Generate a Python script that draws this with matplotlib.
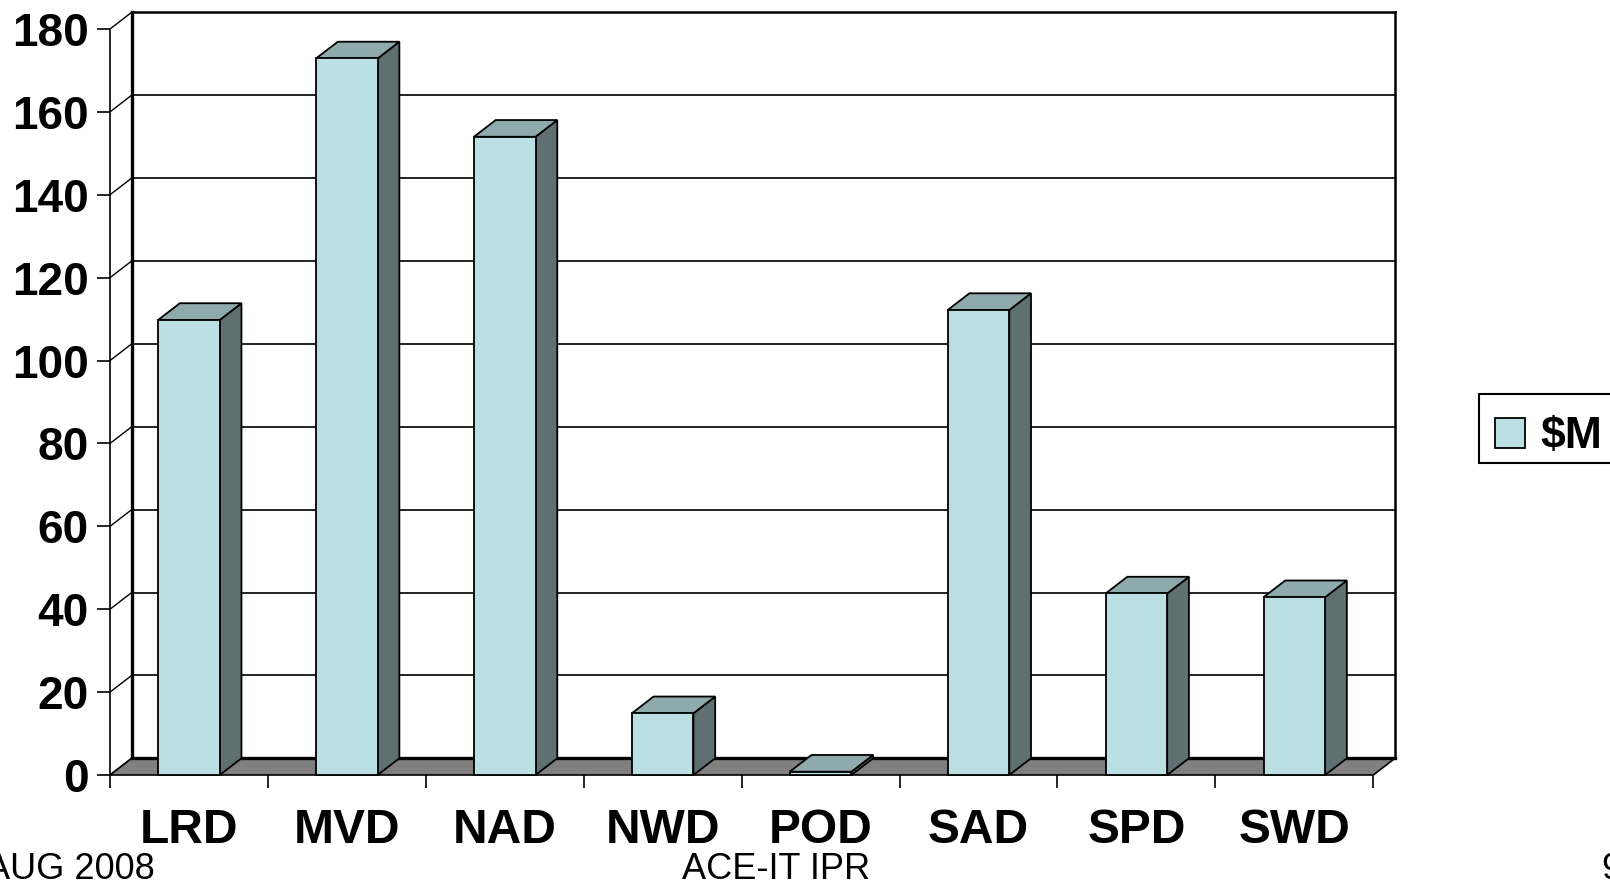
"""3D-style column chart: $M by division (ACE-IT IPR, AUG 2008)."""

import matplotlib.pyplot as plt
from matplotlib.patches import Polygon, Rectangle

plt.rcParams["font.family"] = ["Liberation Sans", "DejaVu Sans"]

divisions = ["LRD", "MVD", "NAD", "NWD", "POD", "SAD", "SPD", "SWD"]
values = [109.8, 172.9, 154.0, 14.9, 0.8, 112.2, 43.8, 42.9]
y_ticks = [0, 20, 40, 60, 80, 100, 120, 140, 160, 180]
series_label = "$M"

FRONT = "#BBE0E3"
TOP = "#8FAAAC"
SIDE = "#5E7072"
FLOOR = "#808080"

W, H = 1610, 883
DX = 21.7 / 157.9   # depth offset in category units
DY = 16.7 / 4.144   # depth offset in value units
BAR_W = 0.39
YMAX = 180
N = len(divisions)

fig = plt.figure(figsize=(W / 100, H / 100), dpi=100)
left, right = 110 / W, 1395 / W
bottom, top = (H - 775) / H, (H - 12.3) / H
ax = fig.add_axes([left, bottom, right - left, top - bottom])
ax.set_xlim(0, N + DX)
ax.set_ylim(0, YMAX + DY)
ax.patch.set_visible(False)

for s in ["top", "right", "bottom"]:
    ax.spines[s].set_visible(False)
ax.spines["left"].set_bounds(0, YMAX)
ax.spines["left"].set_linewidth(1.2)

ax.set_yticks(y_ticks)
ax.set_yticklabels([str(t) for t in y_ticks], fontsize=33, fontweight="bold")
ax.tick_params(axis="y", length=9.5, width=1.2, pad=6)
ax.set_xticks(range(N + 1))
ax.set_xticklabels([""] * (N + 1))
ax.set_xticks([i + 0.5 for i in range(N)], minor=True)
ax.set_xticklabels(divisions, minor=True, fontsize=34.5, fontweight="bold")
ax.tick_params(axis="x", which="major", length=9, width=1.2)
ax.tick_params(axis="x", which="minor", length=0, pad=24)

# back wall gridlines and left wall diagonals
for t in y_ticks[1:-1]:
    ax.plot([DX, N + DX], [t + DY, t + DY], color="#111111", lw=1.3, zorder=1)
for t in y_ticks:
    ax.plot([0, DX], [t, t + DY], color="black", lw=1.0, zorder=1, clip_on=False)
ax.plot([DX, N + DX], [YMAX + DY, YMAX + DY], color="black", lw=1.8, zorder=1,
        clip_on=False)
ax.plot([N + DX, N + DX], [DY, YMAX + DY], color="black", lw=1.8, zorder=1,
        clip_on=False)
ax.plot([DX, DX], [DY, YMAX + DY], color="black", lw=2.4, zorder=2, clip_on=False)

# floor
ax.add_patch(Polygon([(0, 0), (N, 0), (N + DX, DY), (DX, DY)], closed=True,
                     facecolor=FLOOR, edgecolor="black", lw=1.2, zorder=2,
                     clip_on=False))
ax.plot([DX, N + DX], [DY, DY], color="black", lw=2.4, zorder=2, clip_on=False)

# bars
for i, v in enumerate(values):
    x0 = i + 0.5 - BAR_W / 2
    x1 = i + 0.5 + BAR_W / 2
    kw = dict(closed=True, edgecolor="black", lw=1.3, zorder=3,
              joinstyle="miter", clip_on=False)
    ax.add_patch(Polygon([(x1, 0), (x1 + DX, DY), (x1 + DX, v + DY), (x1, v)],
                         facecolor=SIDE, **kw))
    ax.add_patch(Polygon([(x0, v), (x1, v), (x1 + DX, v + DY), (x0 + DX, v + DY)],
                         facecolor=TOP, **kw))
    ax.add_patch(Polygon([(x0, 0), (x1, 0), (x1, v), (x0, v)],
                         facecolor=FRONT, **kw))

# legend (box runs off the right edge, as in the slide)
def px(x, y):
    return x / W, 1 - y / H

fig.patches.append(Rectangle(px(1479, 463.3), 200 / W, 69.3 / H,
                             transform=fig.transFigure, facecolor="white",
                             edgecolor="black", lw=1.5))
fig.patches.append(Rectangle(px(1494.7, 448.3), 30.3 / W, 30.6 / H,
                             transform=fig.transFigure, facecolor=FRONT,
                             edgecolor="black", lw=1.3))
fig.text(*px(1540, 448.3), series_label, fontsize=32, fontweight="bold",
         ha="left", va="baseline")

base = 1 - 879.3 / H
fig.text(155 / W, base, "AUG 2008", fontsize=26, ha="right", va="baseline")
fig.text(776 / W, base, "ACE-IT IPR", fontsize=26, ha="center", va="baseline")
fig.text(1601.7 / W, base, "9", fontsize=26, ha="left", va="baseline")

fig.savefig("out.png", dpi=100)
